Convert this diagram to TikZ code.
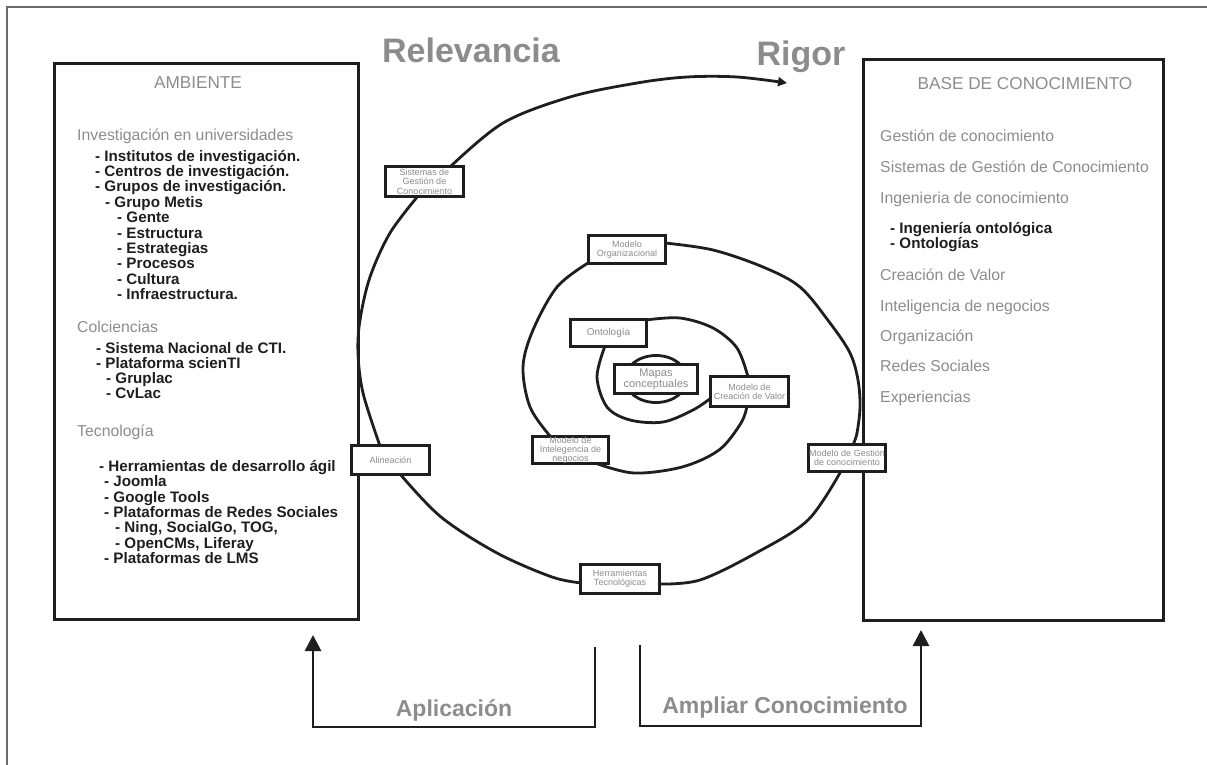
\documentclass[tikz,border=0pt]{standalone}
\usepackage{fontspec}
\setmainfont{Liberation Sans}
\usetikzlibrary{arrows.meta,calc}
\definecolor{txtgray}{HTML}{8C8C8C}
\definecolor{ink}{HTML}{1E1E1E}
\definecolor{framegray}{HTML}{6A6A6A}
\begin{document}
\begin{tikzpicture}[x=1pt,y=-1pt,
  bigbox/.style={draw=ink, line width=3, inner sep=0},
  sbox/.style={draw=ink, line width=2.6, fill=white, inner sep=0, align=center, text=txtgray, font=\fontsize{9}{9.3}\selectfont},
  spiral/.style={draw=ink, line width=2.8, line cap=round, line join=round},
  conn/.style={draw=ink, line width=2.8},
  item/.style={inner sep=0, anchor=base west, text=ink, font=\bfseries\fontsize{15.2}{16}\selectfont},
  head/.style={inner sep=0, anchor=base west, text=txtgray, font=\fontsize{15.8}{17}\selectfont},
  title/.style={inner sep=0, anchor=base, text=txtgray, font=\fontsize{17.2}{18}\selectfont},
  big/.style={inner sep=0, anchor=base, text=txtgray, font=\bfseries\fontsize{34}{36}\selectfont},
  mid/.style={inner sep=0, anchor=base, text=txtgray, font=\bfseries\fontsize{23}{25}\selectfont}]
\useasboundingbox (0,0) rectangle (1207,765);
% outer frame
\draw[framegray, line width=1.5] (7,765) -- (7,7) -- (1207,7);
% big boxes
\node[bigbox, minimum width=304, minimum height=556] (amb) at (206.5,341.5) {};
\node[bigbox, minimum width=300, minimum height=561] (base) at (1013.5,340) {};
% small boxes (placed first for names, redrawn on top later)
\path
  (424.5,181.5) coordinate (csgc)
  (627,249.5) coordinate (corg)
  (608.5,333) coordinate (cont)
  (656,379) coordinate (cmap)
  (749.5,391.5) coordinate (ccre)
  (570.5,450) coordinate (cint)
  (390.5,460) coordinate (cal)
  (620,579) coordinate (cher)
  (847,458) coordinate (cges);
% spiral segments
\draw[spiral, -{Triangle[length=9pt,width=9pt]}] plot[smooth, tension=0.55] coordinates {(450,167) (503,123) (570,97) (637,83) (687,77) (737,77) (787,83)};
\draw[spiral] plot[smooth, tension=0.55] coordinates {(418,196) (390,233) (370,277) (360,320) (358,353) (363,393) (380,446)};
\draw[spiral] plot[smooth, tension=0.55] coordinates {(400,474) (441,517) (497,553) (552,577) (582,583)};
\draw[spiral] plot[smooth, tension=0.55] coordinates {(659,584) (700,580) (756,553) (808,520) (841,471)};
\draw[spiral] plot[smooth, tension=0.55] coordinates {(665,243) (713,250) (763,267) (800,287) (830,323) (850,353) (858,380) (860,407) (857,433) (853,445)};
\draw[spiral] plot[smooth, tension=0.55] coordinates {(588,263) (557,287) (533,330) (523,367) (530,407) (550,436)};
\draw[spiral] plot[smooth, tension=0.55] coordinates {(595,463) (634,473) (682,467) (719,450) (741,423) (747,406)};
\draw[spiral] plot[smooth, tension=0.55] coordinates {(646,320) (680,318) (713,328) (737,348) (748,377)};
\draw[spiral] plot[smooth, tension=0.55] coordinates {(605,346) (597,377) (607,407) (630,420) (663,422) (693,410) (711,398)};
\draw[spiral] (cmap) ellipse [x radius=31, y radius=23.5];
% small boxes on top
\node[sbox, minimum width=78, minimum height=30] (sgc) at (csgc) {Sistemas de\\Gestión de\\Conocimiento};
\node[sbox, minimum width=77, minimum height=28] (org) at (corg) {Modelo\\Organizacional};
\node[sbox, minimum width=76, minimum height=27, font=\fontsize{10}{10.5}\selectfont] (ont) at (cont) {Ontología};
\node[sbox, minimum width=83, minimum height=29, font=\fontsize{11}{10.8}\selectfont] (map) at (cmap) {Mapas\\conceptuales};
\node[sbox, minimum width=78, minimum height=30] (cre) at (ccre) {Modelo de\\Creación de Valor};
\node[sbox, minimum width=76, minimum height=27] (int) at (cint) {Modelo de\\Intelegencia de\\negocios};
\node[sbox, minimum width=78, minimum height=29] (al) at (cal) {Alineación};
\node[sbox, minimum width=79, minimum height=29] (her) at (cher) {Herramientas\\Tecnológicas};
\node[sbox, minimum width=77, minimum height=27] (ges) at (cges) {Modelo de Gestión\\de conocimiento};
% bottom arrows
\coordinate (apS) at (595,647);
\coordinate (apT) at (313,635);
\draw[conn, -{Triangle[length=16pt,width=16pt]}] (apS) -- (595,727) -| (apT);
\coordinate (amS) at (640,645);
\coordinate (amT) at (921,630);
\draw[conn, -{Triangle[length=16pt,width=16pt]}] (amS) -- (640,726) -| (amT);
% big labels
\node[big] (rel) at (471,63) {Relevancia};
\node[big] (rig) at (801,66) {Rigor};
\node[mid] (apl) at (454,716) {Aplicación};
\node[mid] (amp) at (785,713) {Ampliar Conocimiento};
% left box texts
\node[title] (tamb) at (198,89) {AMBIENTE};
\node[head] (h1) at (77,140) {Investigación en universidades};
\node[head] (h2) at (77,332) {Colciencias};
\node[head] (h3) at (77,436) {Tecnología};
\foreach \nm/\px/\py/\t in {
  a1/95/161/{- Institutos de investigación.},
  a2/95/176.4/{- Centros de investigación.},
  a3/95/191.8/{- Grupos de investigación.},
  a4/105/207.2/{- Grupo Metis},
  a5/117/222.6/{- Gente},
  a6/117/238/{- Estructura},
  a7/117/253.4/{- Estrategias},
  a8/117/268.8/{- Procesos},
  a9/117/284.2/{- Cultura},
  a10/117/299.6/{- Infraestructura.},
  b1/96/353/{- Sistema Nacional de CTI.},
  b2/96/368/{- Plataforma scienTI},
  b3/106/383/{- Gruplac},
  b4/106/398/{- CvLac},
  c1/99/471.5/{- Herramientas de desarrollo ágil},
  c2/104/486.8/{- Joomla},
  c3/104/502.1/{- Google Tools},
  c4/104/517.4/{- Plataformas de Redes Sociales},
  c5/115/532.7/{- Ning, SocialGo, TOG,},
  c6/115/548/{- OpenCMs, Liferay},
  c7/104/563.3/{- Plataformas de LMS}}
  \node[item] (\nm) at (\px,\py) {\t};
% right box texts
\node[title] (tbase) at (1025,90) {BASE DE CONOCIMIENTO};
\foreach \nm/\py/\t in {
  r1/141.7/{Gestión de conocimiento},
  r2/172.3/{Sistemas de Gestión de Conocimiento},
  r3/203.3/{Ingenieria de conocimiento},
  r4/280.7/{Creación de Valor},
  r5/311/{Inteligencia de negocios},
  r6/341.7/{Organización},
  r7/371.7/{Redes Sociales},
  r8/402.7/{Experiencias}}
  \node[head] (\nm) at (880,\py) {\t};
\node[item] (s1) at (890,233.3) {- Ingeniería ontológica};
\node[item] (s2) at (890,248.3) {- Ontologías};
\end{tikzpicture}
\end{document}
